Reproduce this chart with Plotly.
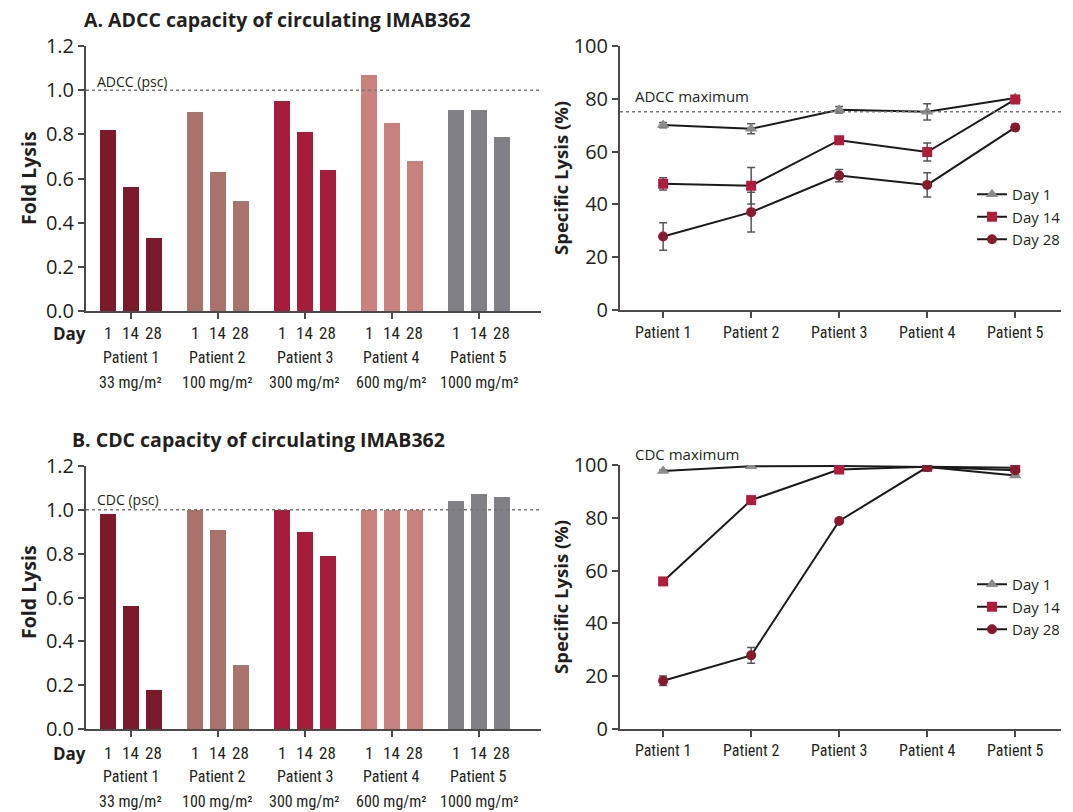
import plotly.graph_objects as go

# ---------------- data ----------------
patients = ["Patient 1", "Patient 2", "Patient 3", "Patient 4", "Patient 5"]
doses = ["33 mg/m²", "100 mg/m²", "300 mg/m²", "600 mg/m²", "1000 mg/m²"]
days = ["1", "14", "28"]
patient_colors = ["#7c1a2d", "#a8736c", "#a61d3c", "#c8817c", "#808086"]

# Fold lysis (per patient: day 1, 14, 28)
adcc_fold = [[0.82, 0.56, 0.33], [0.90, 0.63, 0.50], [0.95, 0.81, 0.64],
             [1.07, 0.85, 0.68], [0.91, 0.91, 0.79]]
cdc_fold = [[0.98, 0.56, 0.18], [1.00, 0.91, 0.29], [1.00, 0.90, 0.79],
            [1.00, 1.00, 1.00], [1.04, 1.07, 1.06]]

# Specific lysis (%) per day across patients
adcc_day1 = [70.0, 68.6, 75.8, 75.0, 80.2]
adcc_day1_err = [1.0, 1.9, 1.2, 3.1, 0.8]
adcc_day14 = [47.8, 47.1, 64.3, 59.8, 79.7]
adcc_day14_err = [2.3, 6.9, 0.8, 3.4, 0.8]
adcc_day28 = [27.9, 37.1, 50.9, 47.4, 69.1]
adcc_day28_err = [5.2, 7.5, 2.3, 4.6, 1.2]

cdc_day1 = [97.7, 99.5, 99.6, 99.2, 96.0]
cdc_day1_err = [0.4, 0.4, 0.4, 0.4, 0.4]
cdc_day14 = [55.9, 86.7, 98.3, 99.3, 99.0]
cdc_day14_err = [0.5, 0.5, 0.5, 0.5, 0.5]
cdc_day28 = [18.3, 27.9, 78.8, 99.2, 98.0]
cdc_day28_err = [1.8, 3.0, 0.8, 0.5, 0.5]

adcc_max = 75
fold_ref = 1.0

# ---------------- styling ----------------
W, H = 1073, 812
AXC = "#4a4a4a"
TXT = "#231f20"
NUM_FONT = "Open Sans, Lato, sans-serif"
COND_FONT = "Liberation Sans Narrow, Arial Narrow, Roboto Condensed, DejaVu Sans Condensed, sans-serif"
BAR_OFF = 0.2615
BAR_W = 0.18


def px(x):
    return x / W


def py(y):
    return 1 - y / H


fig = go.Figure()

# ---------------- bar panels ----------------
bar_panels = [("x", "y", adcc_fold), ("x2", "y2", cdc_fold)]
for xa, ya, vals in bar_panels:
    xs, ys, cs = [], [], []
    for i, pv in enumerate(vals):
        for j, v in enumerate(pv):
            xs.append(i + (j - 1) * BAR_OFF)
            ys.append(v)
            cs.append(patient_colors[i])
    fig.add_trace(go.Bar(x=xs, y=ys, width=BAR_W, marker=dict(color=cs, line=dict(width=0)),
                         xaxis=xa, yaxis=ya, showlegend=False))

# ---------------- line panels ----------------
series_style = [
    ("Day 1", "triangle-up", "#8b8b8e", 11),
    ("Day 14", "square", "#b01c40", 10),
    ("Day 28", "circle", "#861a2e", 10),
]
line_panels = [
    ("x3", "y3", "legend", [(adcc_day1, adcc_day1_err), (adcc_day14, adcc_day14_err), (adcc_day28, adcc_day28_err)]),
    ("x4", "y4", "legend2", [(cdc_day1, cdc_day1_err), (cdc_day14, cdc_day14_err), (cdc_day28, cdc_day28_err)]),
]
for xa, ya, leg, series in line_panels:
    for (name, sym, col, sz), (vals, errs) in zip(series_style, series):
        fig.add_trace(go.Scatter(
            x=list(range(len(patients))), y=vals, name=name, mode="lines+markers",
            line=dict(color="#1a1a1a", width=2),
            marker=dict(symbol=sym, color=col, size=sz, line=dict(width=0)),
            error_y=dict(type="data", array=errs, visible=True, color="#555555", thickness=1.5, width=4),
            xaxis=xa, yaxis=ya, legend=leg, showlegend=True))

# ---------------- axes ----------------
common_axis = dict(showline=True, linecolor=AXC, linewidth=2, showgrid=False, zeroline=False,
                   ticks="outside", ticklen=6, tickwidth=1.5, tickcolor=AXC, automargin=False)

left_x = [px(86), px(541)]
right_x = [px(620), px(1061)]

fig.update_layout(
    xaxis=dict(domain=left_x, anchor="y", range=[-0.517, 4.713], tickvals=list(range(5)),
               showticklabels=False, **common_axis),
    yaxis=dict(domain=[py(311), py(46)], anchor="x", range=[0, 1.2], tickvals=[0, 0.2, 0.4, 0.6, 0.8, 1.0, 1.2],
               tickformat=".1f", tickfont=dict(family=NUM_FONT, size=20, color=TXT), **common_axis),
    xaxis2=dict(domain=left_x, anchor="y2", range=[-0.517, 4.713], tickvals=list(range(5)),
                showticklabels=False, **common_axis),
    yaxis2=dict(domain=[py(729), py(466)], anchor="x2", range=[0, 1.2], tickvals=[0, 0.2, 0.4, 0.6, 0.8, 1.0, 1.2],
                tickformat=".1f", tickfont=dict(family=NUM_FONT, size=20, color=TXT), **common_axis),
    xaxis3=dict(domain=right_x, anchor="y3", range=[-0.49, 4.52], tickvals=list(range(5)), ticktext=patients,
                tickfont=dict(family=COND_FONT, size=16, color=TXT), **common_axis),
    yaxis3=dict(domain=[py(310.3), py(45.7)], anchor="x3", range=[0, 100], tickvals=[0, 20, 40, 60, 80, 100],
                tickfont=dict(family=NUM_FONT, size=20, color=TXT), **common_axis),
    xaxis4=dict(domain=right_x, anchor="y4", range=[-0.49, 4.52], tickvals=list(range(5)), ticktext=patients,
                tickfont=dict(family=COND_FONT, size=16, color=TXT), **common_axis),
    yaxis4=dict(domain=[py(729), py(465)], anchor="x4", range=[0, 100], tickvals=[0, 20, 40, 60, 80, 100],
                tickfont=dict(family=NUM_FONT, size=20, color=TXT), **common_axis),
)

# ---------------- reference lines ----------------
shapes = []
for xa, ya in [("x", "y"), ("x2", "y2")]:
    shapes.append(dict(type="line", xref=f"{xa} domain", yref=ya, x0=0, x1=1, y0=fold_ref, y1=fold_ref,
                       line=dict(color="#777777", width=1.5, dash="dot")))
shapes.append(dict(type="line", xref="x3 domain", yref="y3", x0=0, x1=1, y0=adcc_max, y1=adcc_max,
                   line=dict(color="#777777", width=1.5, dash="dot")))
fig.update_layout(shapes=shapes)

# ---------------- annotations ----------------
ann = []


def add_text(text, x, y, size, family=NUM_FONT, xref="paper", xanchor="center", angle=0):
    ann.append(dict(text=text, x=x, y=y, xref=xref, yref="paper", showarrow=False,
                    xanchor=xanchor, yanchor="middle", textangle=angle,
                    font=dict(family=family, size=size, color=TXT)))


add_text("<b>A. ADCC capacity of circulating IMAB362</b>", px(277), py(20), 19.5)
add_text("<b>B. CDC capacity of circulating IMAB362</b>", px(258), py(439), 19.5)

# y-axis titles
for yc in [178, 592]:
    add_text("<b>Fold Lysis</b>", px(28), py(yc), 19.5, angle=-90)
for yc in [178, 597]:
    add_text("<b>Specific Lysis (%)</b>", px(560), py(yc), 18.5, angle=-90)

# reference labels
add_text("ADCC (psc)", px(95), py(81), 14, xanchor="left")
add_text("CDC (psc)", px(95), py(499), 14, xanchor="left")
add_text("ADCC maximum", px(633), py(96), 15, xanchor="left")
add_text("CDC maximum", px(633), py(454), 15, xanchor="left")

# bar-panel category labels
for xa, y_day, y_pat, y_dose in [("x", 333, 357, 382), ("x2", 753, 776, 801)]:
    add_text("<b>Day</b>", px(69), py(y_day), 17)
    for i in range(len(patients)):
        for j, d in enumerate(days):
            add_text(d, i + (j - 1) * BAR_OFF, py(y_day), 17, family=COND_FONT, xref=xa)
        add_text(patients[i], i, py(y_pat), 16, family=COND_FONT, xref=xa)
        add_text(doses[i], i, py(y_dose), 16, family=COND_FONT, xref=xa)

fig.update_layout(annotations=ann)

# ---------------- legends ----------------
leg_common = dict(xanchor="left", yanchor="top", bgcolor="rgba(0,0,0,0)", borderwidth=0,
                  font=dict(family=NUM_FONT, size=15, color=TXT), tracegroupgap=0, itemwidth=30)
fig.update_layout(
    legend=dict(x=px(972), y=py(178), **leg_common),
    legend2=dict(x=px(972), y=py(568), **leg_common),
)

fig.update_layout(width=W, height=H, margin=dict(l=0, r=0, t=0, b=0, autoexpand=False),
                  paper_bgcolor="white", plot_bgcolor="white", bargap=0)

fig.write_html("out.html")
